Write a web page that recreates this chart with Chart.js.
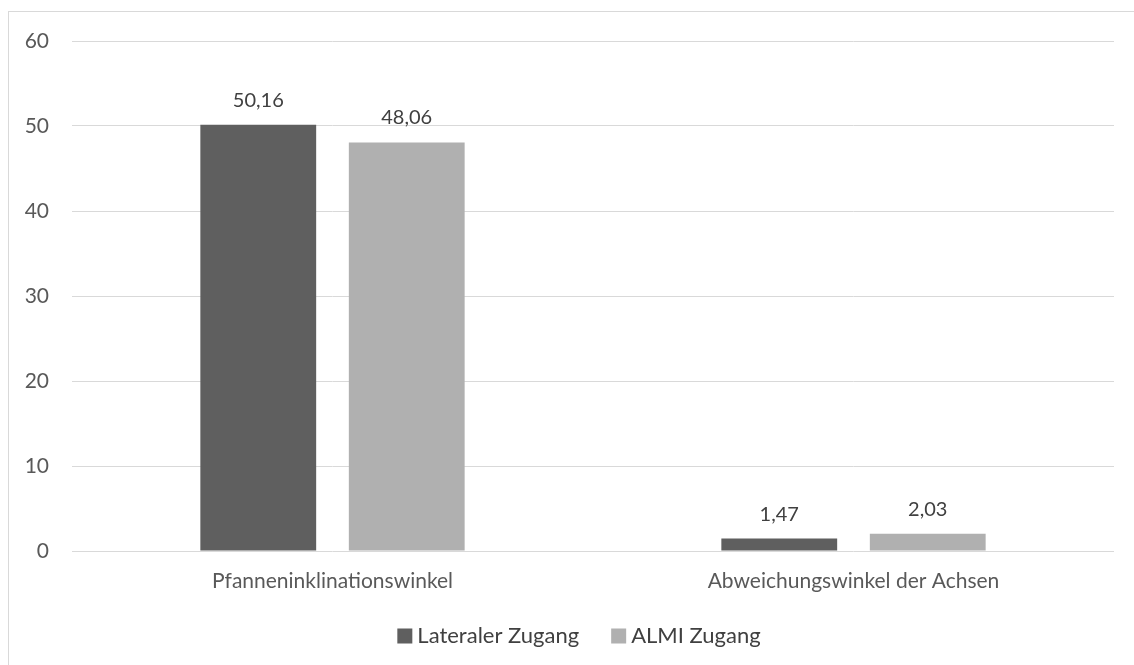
<!DOCTYPE html>
<html>
<head>
<meta charset="utf-8">
<script src="https://cdn.jsdelivr.net/npm/chart.js@4/dist/chart.umd.min.js"></script>
<style>
  html, body { margin: 0; padding: 0; background: #ffffff; }
  #wrap { position: relative; width: 1134px; height: 665px; overflow: hidden; }
  #frame { position: absolute; left: 8px; top: 11px; width: 1200px; height: 700px; border: 1px solid #d9d9d9; box-sizing: border-box; }
  canvas { position: absolute; left: 0; top: 0; }
</style>
</head>
<body>
<div id="wrap">
  <div id="frame"></div>
  <canvas id="chart" width="1134" height="665"></canvas>
</div>
<script>
const categories = ['Pfanneninklinationswinkel', 'Abweichungswinkel der Achsen'];
const lateralValues = [50.16, 1.47];
const almiValues = [48.06, 2.03];
const seriesNames = ['Lateraler Zugang', 'ALMI Zugang'];
const yTicks = [0, 10, 20, 30, 40, 50, 60];

const FONT = 'Lato, Carlito, Calibri, sans-serif';

// writes each bar's value above it, German decimal comma
const valueLabels = {
  id: 'valueLabels',
  afterDatasetsDraw(chart) {
    const ctx = chart.ctx;
    ctx.save();
    ctx.font = '20px ' + FONT;
    ctx.fillStyle = '#404040';
    ctx.textAlign = 'center';
    ctx.textBaseline = 'alphabetic';
    chart.data.datasets.forEach((ds, i) => {
      chart.getDatasetMeta(i).data.forEach((bar, j) => {
        const txt = ds.data[j].toFixed(2).replace('.', ',');
        ctx.fillText(txt, bar.x, bar.y - 18);
      });
    });
    ctx.restore();
  }
};

// compact legend row under the category labels: square swatch, tight text gap, wide item gap
const bottomLegend = {
  id: 'bottomLegend',
  afterDraw(chart, args, opts) {
    const ctx = chart.ctx;
    ctx.save();
    ctx.font = opts.size + 'px ' + FONT;
    ctx.textBaseline = 'middle';
    ctx.textAlign = 'left';
    const items = chart.data.datasets.map(ds => ({
      text: ds.label, color: ds.backgroundColor, w: ctx.measureText(ds.label).width
    }));
    const total = items.reduce((s, it) => s + opts.box + opts.textGap + it.w, 0) + opts.itemGap * (items.length - 1);
    let x = opts.centerX - total / 2;
    items.forEach(it => {
      ctx.fillStyle = it.color;
      ctx.fillRect(x, opts.y - opts.box / 2, opts.box, opts.box);
      x += opts.box + opts.textGap;
      ctx.fillStyle = '#404040';
      ctx.fillText(it.text, x, opts.y);
      x += it.w + opts.itemGap;
    });
    ctx.restore();
  }
};

new Chart(document.getElementById('chart'), {
  type: 'bar',
  data: {
    labels: categories,
    datasets: [
      { label: seriesNames[0], data: lateralValues, backgroundColor: '#5f5f5f' },
      { label: seriesNames[1], data: almiValues, backgroundColor: '#b0b0b0' }
    ]
  },
  options: {
    responsive: false,
    animation: false,
    devicePixelRatio: 1,
    categoryPercentage: 0.57,
    barPercentage: 0.78,
    layout: { padding: { top: 41, right: 20, left: 0, bottom: 50 } },
    plugins: {
      legend: { display: false },
      tooltip: { enabled: false },
      bottomLegend: { centerX: 579, y: 636, size: 22, box: 15, textGap: 5, itemGap: 32 }
    },
    scales: {
      x: {
        grid: { display: false, drawTicks: false },
        border: { display: false },
        ticks: { font: { family: FONT, size: 21 }, color: '#595959', padding: 18 },
        afterFit(scale) { scale.height = 64; }
      },
      y: {
        min: 0,
        max: 60,
        afterBuildTicks(scale) { scale.ticks = yTicks.map(v => ({ value: v })); },
        grid: { color: '#d9d9d9', lineWidth: 1, drawTicks: false },
        border: { display: false },
        ticks: { font: { family: FONT, size: 21 }, color: '#595959', padding: 23 },
        afterFit(scale) { scale.width = 72; }
      }
    }
  },
  plugins: [valueLabels, bottomLegend]
});
</script>
</body>
</html>
